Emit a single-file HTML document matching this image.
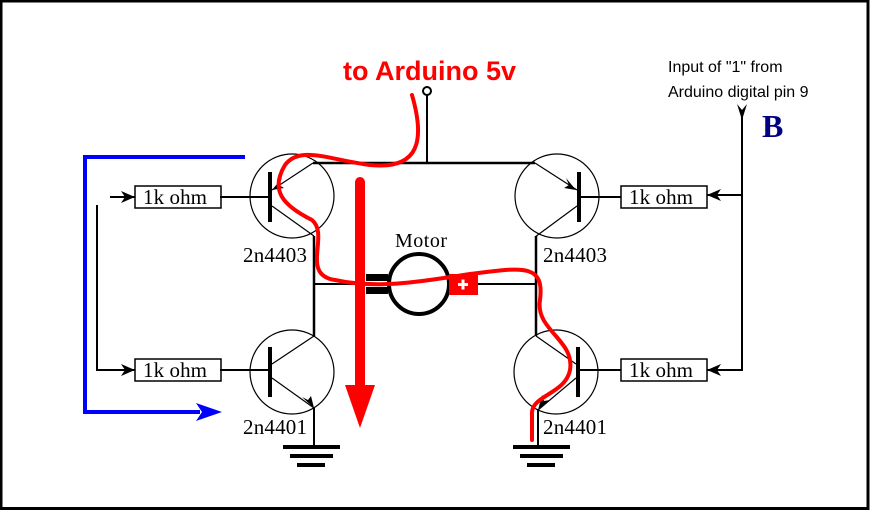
<!DOCTYPE html>
<html><head><meta charset="utf-8"><style>html,body{margin:0;padding:0;background:#fff}svg{display:block}</style></head>
<body>
<svg width="871" height="511" viewBox="0 0 871 511" xmlns="http://www.w3.org/2000/svg">
<rect x="1" y="1" width="867" height="507.5" fill="#fff" stroke="#000" stroke-width="3"/>
<g fill="none" stroke="#000" stroke-width="2">
<line x1="313" y1="163" x2="535" y2="163" stroke-width="2.5"/>
<line x1="427" y1="95" x2="427" y2="163"/>
<line x1="314" y1="236" x2="314" y2="336" stroke-width="2.5"/>
<line x1="314" y1="284" x2="366" y2="284"/>
<line x1="536" y1="236" x2="536" y2="336" stroke-width="2.5"/>
<line x1="478" y1="284" x2="536" y2="284"/>
<circle cx="292" cy="196" r="42" stroke-width="1.2"/>
<circle cx="292" cy="372" r="42" stroke-width="1.2"/>
<circle cx="557" cy="196" r="42" stroke-width="1.2"/>
<circle cx="556" cy="372" r="42" stroke-width="1.2"/>
<line x1="270" y1="172" x2="270" y2="222" stroke-width="4"/>
<line x1="270" y1="347" x2="270" y2="397" stroke-width="4"/>
<line x1="579" y1="172" x2="579" y2="222" stroke-width="4"/>
<line x1="578" y1="347" x2="578" y2="397" stroke-width="4"/>
<line x1="220" y1="197" x2="270" y2="197"/>
<line x1="220" y1="370" x2="270" y2="370"/>
<line x1="579" y1="197" x2="621" y2="197"/>
<line x1="578" y1="370" x2="621" y2="370"/>
<g stroke-width="1.2">
<line x1="272" y1="190" x2="313" y2="163"/><line x1="272" y1="206" x2="314" y2="236"/>
<line x1="272" y1="364" x2="314" y2="336"/><line x1="272" y1="378" x2="314" y2="408"/>
<line x1="577" y1="190" x2="535" y2="163"/><line x1="577" y1="206" x2="535" y2="237"/>
<line x1="576" y1="364" x2="536" y2="336"/><line x1="576" y1="378" x2="538" y2="410"/>
</g>
<line x1="314" y1="408" x2="314" y2="447"/>
<line x1="538" y1="410" x2="538" y2="447"/>
<rect x="135" y="186" width="86" height="22" stroke-width="1.5"/>
<rect x="135" y="359" width="86" height="22" stroke-width="1.5"/>
<rect x="621" y="186" width="86" height="22" stroke-width="1.5"/>
<rect x="621" y="359" width="86" height="22" stroke-width="1.5"/>
<line x1="110" y1="197" x2="135" y2="197"/>
<polyline points="97,205 97,370 135,370"/>
<polyline points="742,110 742,370 707,370"/>
<line x1="742" y1="195" x2="707" y2="195"/>
</g>
<circle cx="427" cy="91" r="4" fill="#fff" stroke="#000" stroke-width="2"/>
<g fill="#000">
<path d="M135,197 l-14,-6 4,6 -4,6z"/>
<path d="M135,370 l-14,-6 4,6 -4,6z"/>
<path d="M707,195 l14,-6 -4,6 4,6z"/>
<path d="M707,370 l14,-6 -4,6 4,6z"/>
<path d="M742,120 l-5,-16 5,6 5,-6z"/>
<path d="M272,190 l12,-2 -5,-3 3,-7z"/>
<path d="M576,190 l-12,-2 5,-3 -3,-7z"/>
<path d="M314,408 l-3,-12 -3,4 -6,-3z"/>
<path d="M538,410 l12,-10 -6,1 -2,-6z"/>
<rect x="283" y="445" width="57" height="4"/><rect x="290" y="454" width="43" height="4"/><rect x="297" y="463" width="28" height="4"/>
<rect x="513" y="445" width="57" height="4"/><rect x="520" y="454" width="43" height="4"/><rect x="527" y="463" width="28" height="4"/>
<rect x="366" y="274" width="22" height="7"/><rect x="366" y="287" width="22" height="7"/>
</g>
<circle cx="419" cy="284" r="30" fill="#fff" stroke="#000" stroke-width="4"/>
<rect x="449" y="274" width="29" height="21" fill="#f00"/>
<path d="M458,284.5 h10 M463,279.5 v10" stroke="#fff" stroke-width="3"/>
<polyline points="245,157 85,157 85,412 200,412" fill="none" stroke="#00f" stroke-width="4"/>
<path d="M222,412 l-26,-9 6,9 -6,9z" fill="#00f"/>
<line x1="360" y1="182" x2="360" y2="390" stroke="#f00" stroke-width="10" stroke-linecap="round"/>
<path d="M345,385 L375,385 L360,428z" fill="#f00"/>
<path d="M412,95 C425,140 420,170 370,165 C330,160 300,145 285,165 C270,190 282,205 312,220 C330,235 300,275 335,280 C380,290 430,280 470,274 C520,268 545,262 540,300 C535,330 575,340 570,370 C565,395 530,395 532,415 L532,440" fill="none" stroke="#f00" stroke-width="4" stroke-linecap="round"/>
<g font-family="Liberation Serif, serif" font-size="21" fill="#000">
<text x="143" y="204" textLength="64">1k ohm</text>
<text x="143" y="377" textLength="64">1k ohm</text>
<text x="629" y="204" textLength="64">1k ohm</text>
<text x="629" y="377" textLength="64">1k ohm</text>
<text x="243" y="262" textLength="64">2n4403</text>
<text x="543" y="262" textLength="64">2n4403</text>
<text x="243" y="434" textLength="64">2n4401</text>
<text x="543" y="434" textLength="64">2n4401</text>
<text x="395" y="247" font-size="20" textLength="52">Motor</text>
</g>
<text x="343" y="80" font-family="Liberation Sans, sans-serif" font-weight="bold" font-size="27" fill="#f00">to Arduino 5v</text>
<g font-family="Liberation Sans, sans-serif" font-size="16" fill="#000">
<text x="668" y="72">Input of "1" from</text>
<text x="668" y="97">Arduino digital pin 9</text>
</g>
<text x="762" y="137" font-family="Liberation Serif, serif" font-weight="bold" font-size="32" fill="#000080">B</text>
</svg>
</body></html>
